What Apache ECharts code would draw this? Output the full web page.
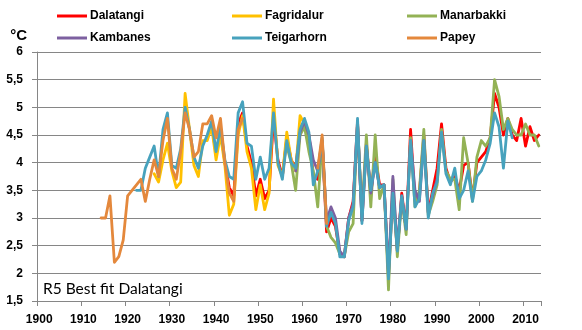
<!DOCTYPE html>
<html>
<head>
<meta charset="utf-8">
<script src="https://cdn.jsdelivr.net/npm/echarts@6/dist/echarts.min.js"></script>
<style>
  html, body { margin: 0; padding: 0; background: #fff; }
  #chart { width: 582px; height: 330px; }
</style>
</head>
<body>
<div id="chart"></div>
<script>
// Annual mean temperature (°C) at stations in East Iceland
const firstYear = 1900;
const lastYear = 2013;
const yTicks = { min: 1.5, max: 6, step: 0.5 };

const dalatangiStart = 1939;
const dalatangi = [4.7, 4.15, 4.6, 4.0, 3.55, 3.4, 4.7, 4.9, 4.3, 4.0,
  3.4, 3.7, 3.35, 3.5, 4.8, 4.05, 3.75, 4.45, 4.05, 3.9,
  4.6, 4.75, 4.5, 3.75, 3.7, 4.4, 2.75, 3.0, 2.85, 2.35,
  2.3, 3.0, 3.3, 4.75, 2.95, 4.35, 3.45, 4.1, 3.6, 3.6,
  1.95, 3.5, 2.4, 3.45, 2.8, 4.6, 3.3, 3.45, 4.5, 3.1,
  3.5, 3.9, 4.7, 3.9, 3.65, 3.75, 3.5, 3.95, 4.0, 3.35,
  4.0, 4.1, 4.2, 4.45, 5.25, 5.0, 4.5, 4.8, 4.5, 4.4,
  4.8, 4.3, 4.65, 4.4, 4.5];

const fagridalurStart = 1926;
const fagridalur = [3.8, 3.65, 4.05, 4.35, 3.85, 3.55, 3.65, 5.25, 4.6, 3.95,
  3.75, 4.4, 4.4, 4.65, 4.05, 4.5, 3.95, 3.05, 3.25, 4.5,
  4.85, 4.2, 3.9, 3.15, 3.6, 3.15, 3.45, 5.15, 3.95, 3.75,
  4.55, 4.05, 3.85, 4.85, 4.7, 4.4];

const manarbakkiStart = 1956;
const manarbakki = [4.3, 4.0, 3.5, 4.5, 4.65, 4.2, 3.85, 3.2, 4.4, 2.85,
  2.65, 2.55, 2.35, 2.3, 2.75, 2.9, 4.7, 3.1, 4.5, 3.2,
  4.5, 3.35, 3.6, 1.7, 3.7, 2.3, 3.35, 2.7, 4.45, 3.2,
  3.5, 4.6, 3.05, 3.3, 3.6, 4.6, 3.85, 3.7, 3.7, 3.15,
  4.45, 4.0, 3.3, 4.1, 4.4, 4.3, 4.45, 5.5, 5.2, 4.6,
  4.8, 4.6, 4.5, 4.5, 4.7, 4.5, 4.5, 4.3];

const kambanesStart = 1958;
const kambanes = [3.85, 4.55, 4.75, 4.5, 4.05, 3.85, 4.4, 2.95, 3.2, 3.0,
  2.4, 2.3, 3.0, 3.25, 4.7, 2.95, 4.3, 3.45, 4.0, 3.55,
  3.6, 2.0, 3.75, 2.45, 3.4, 2.8, 4.4, 3.5, 3.3, 4.4,
  3.1, 3.4, 3.7];

const teigarhornStart = 1922;
const teigarhorn = [3.5, 3.5, 3.9, 4.1, 4.3, 3.75, 4.6, 4.9, 3.95, 3.9,
  4.25, 5.0, 4.6, 4.1, 3.9, 4.3, 4.5, 4.75, 4.2, 4.65,
  4.05, 3.75, 3.7, 4.9, 5.1, 4.35, 4.3, 3.7, 4.1, 3.7,
  3.9, 4.9, 4.0, 3.7, 4.4, 4.0, 3.9, 4.6, 4.8, 4.55,
  3.6, 3.85, 4.45, 2.85, 3.1, 2.9, 2.3, 2.3, 2.95, 3.2,
  4.8, 2.9, 4.3, 3.5, 4.0, 3.55, 3.6, 1.9, 3.45, 2.4,
  3.4, 2.8, 4.4, 3.2, 3.35, 4.4, 3.0, 3.45, 3.65, 4.55,
  3.8, 3.6, 3.9, 3.35, 3.5, 3.85, 3.3, 3.75, 3.85, 4.05,
  4.35, 4.9, 4.65, 3.9, 4.75, 4.45];

const papeyStart = 1914;
const papey = [3.0, 3.0, 3.4, 2.2, 2.3, 2.6, 3.4, 3.5, 3.6, 3.7,
  3.3, 3.7, 4.05, 3.75, 4.4, 4.8, 3.9, 3.7, 4.2, 4.9,
  4.6, 4.1, 4.2, 4.7, 4.7, 4.85, 4.45, 4.8, 4.0, 3.45,
  3.3, 4.6, 4.8, null, null, null, null, null, null, null,
  null, null, null, null, null, null, null, null, null, 3.9,
  4.5, 2.9];

const stations = [
  { name: 'Dalatangi',  start: dalatangiStart,  values: dalatangi,  color: '#ff0000' },
  { name: 'Fagridalur', start: fagridalurStart, values: fagridalur, color: '#ffc000' },
  { name: 'Manarbakki', start: manarbakkiStart, values: manarbakki, color: '#93b255' },
  { name: 'Kambanes',   start: kambanesStart,   values: kambanes,   color: '#7d60a0' },
  { name: 'Teigarhorn', start: teigarhornStart, values: teigarhorn, color: '#47a2bd' },
  { name: 'Papey',      start: papeyStart,      values: papey,      color: '#e4883c' }
];

const years = [];
for (let y = firstYear; y <= lastYear; y++) years.push(String(y));

function alignToYears(start, values) {
  return years.map(function (label) {
    const i = Number(label) - start;
    return (i >= 0 && i < values.length) ? values[i] : null;
  });
}

const boldFont = { fontFamily: 'Liberation Sans', fontWeight: 'bold', fontSize: 12, color: '#000' };
const gray = '#868686';

function legendColumn(names, left) {
  return {
    data: names,
    orient: 'vertical',
    left: left,
    top: 9,
    padding: 0,
    itemGap: 8,
    itemWidth: 30,
    itemHeight: 3,
    icon: 'rect',
    selectedMode: false,
    textStyle: Object.assign({ lineHeight: 14, padding: [0, 0, 0, -2] }, boldFont)
  };
}

const chart = echarts.init(document.getElementById('chart'), null, { renderer: 'canvas' });
chart.setOption({
  animation: false,
  backgroundColor: '#fff',
  title: {
    text: 'R5 Best fit Dalatangi',
    left: 43,
    top: 281,
    padding: 0,
    textStyle: { fontFamily: 'Lato', fontWeight: 'normal', fontSize: 15.5, color: '#000' }
  },
  legend: [
    legendColumn(['Dalatangi', 'Kambanes'], 57),
    legendColumn(['Fagridalur', 'Teigarhorn'], 232),
    legendColumn(['Manarbakki', 'Papey'], 407)
  ],
  grid: { left: 37, right: 41, top: 52, bottom: 29, containLabel: false },
  xAxis: {
    type: 'category',
    data: years,
    boundaryGap: true,
    axisLine: { show: true, lineStyle: { color: gray, width: 1 } },
    axisTick: { show: true, interval: 9, length: 5, lineStyle: { color: gray } },
    axisLabel: Object.assign({ interval: 9, margin: 13 }, boldFont),
    splitLine: { show: false }
  },
  yAxis: {
    type: 'value',
    min: yTicks.min,
    max: yTicks.max,
    interval: yTicks.step,
    name: '°C',
    nameLocation: 'end',
    nameGap: 9,
    nameTextStyle: { fontFamily: 'Liberation Sans', fontWeight: 'bold', fontSize: 15, color: '#000', align: 'right', padding: [0, 10, 0, 0] },
    axisLine: { show: true, lineStyle: { color: gray, width: 1 } },
    axisTick: { show: true, length: 5, lineStyle: { color: gray } },
    axisLabel: Object.assign({
      margin: 14,
      formatter: function (v) { return String(v).replace('.', ','); }
    }, boldFont),
    splitLine: { show: true, lineStyle: { color: gray, width: 1 } }
  },
  series: stations.map(function (s) {
    return {
      name: s.name,
      type: 'line',
      data: alignToYears(s.start, s.values),
      showSymbol: false,
      symbol: 'none',
      connectNulls: false,
      color: s.color,
      lineStyle: { color: s.color, width: 2.8, cap: 'round', join: 'round' },
      emphasis: { disabled: true }
    };
  })
});
</script>
</body>
</html>
